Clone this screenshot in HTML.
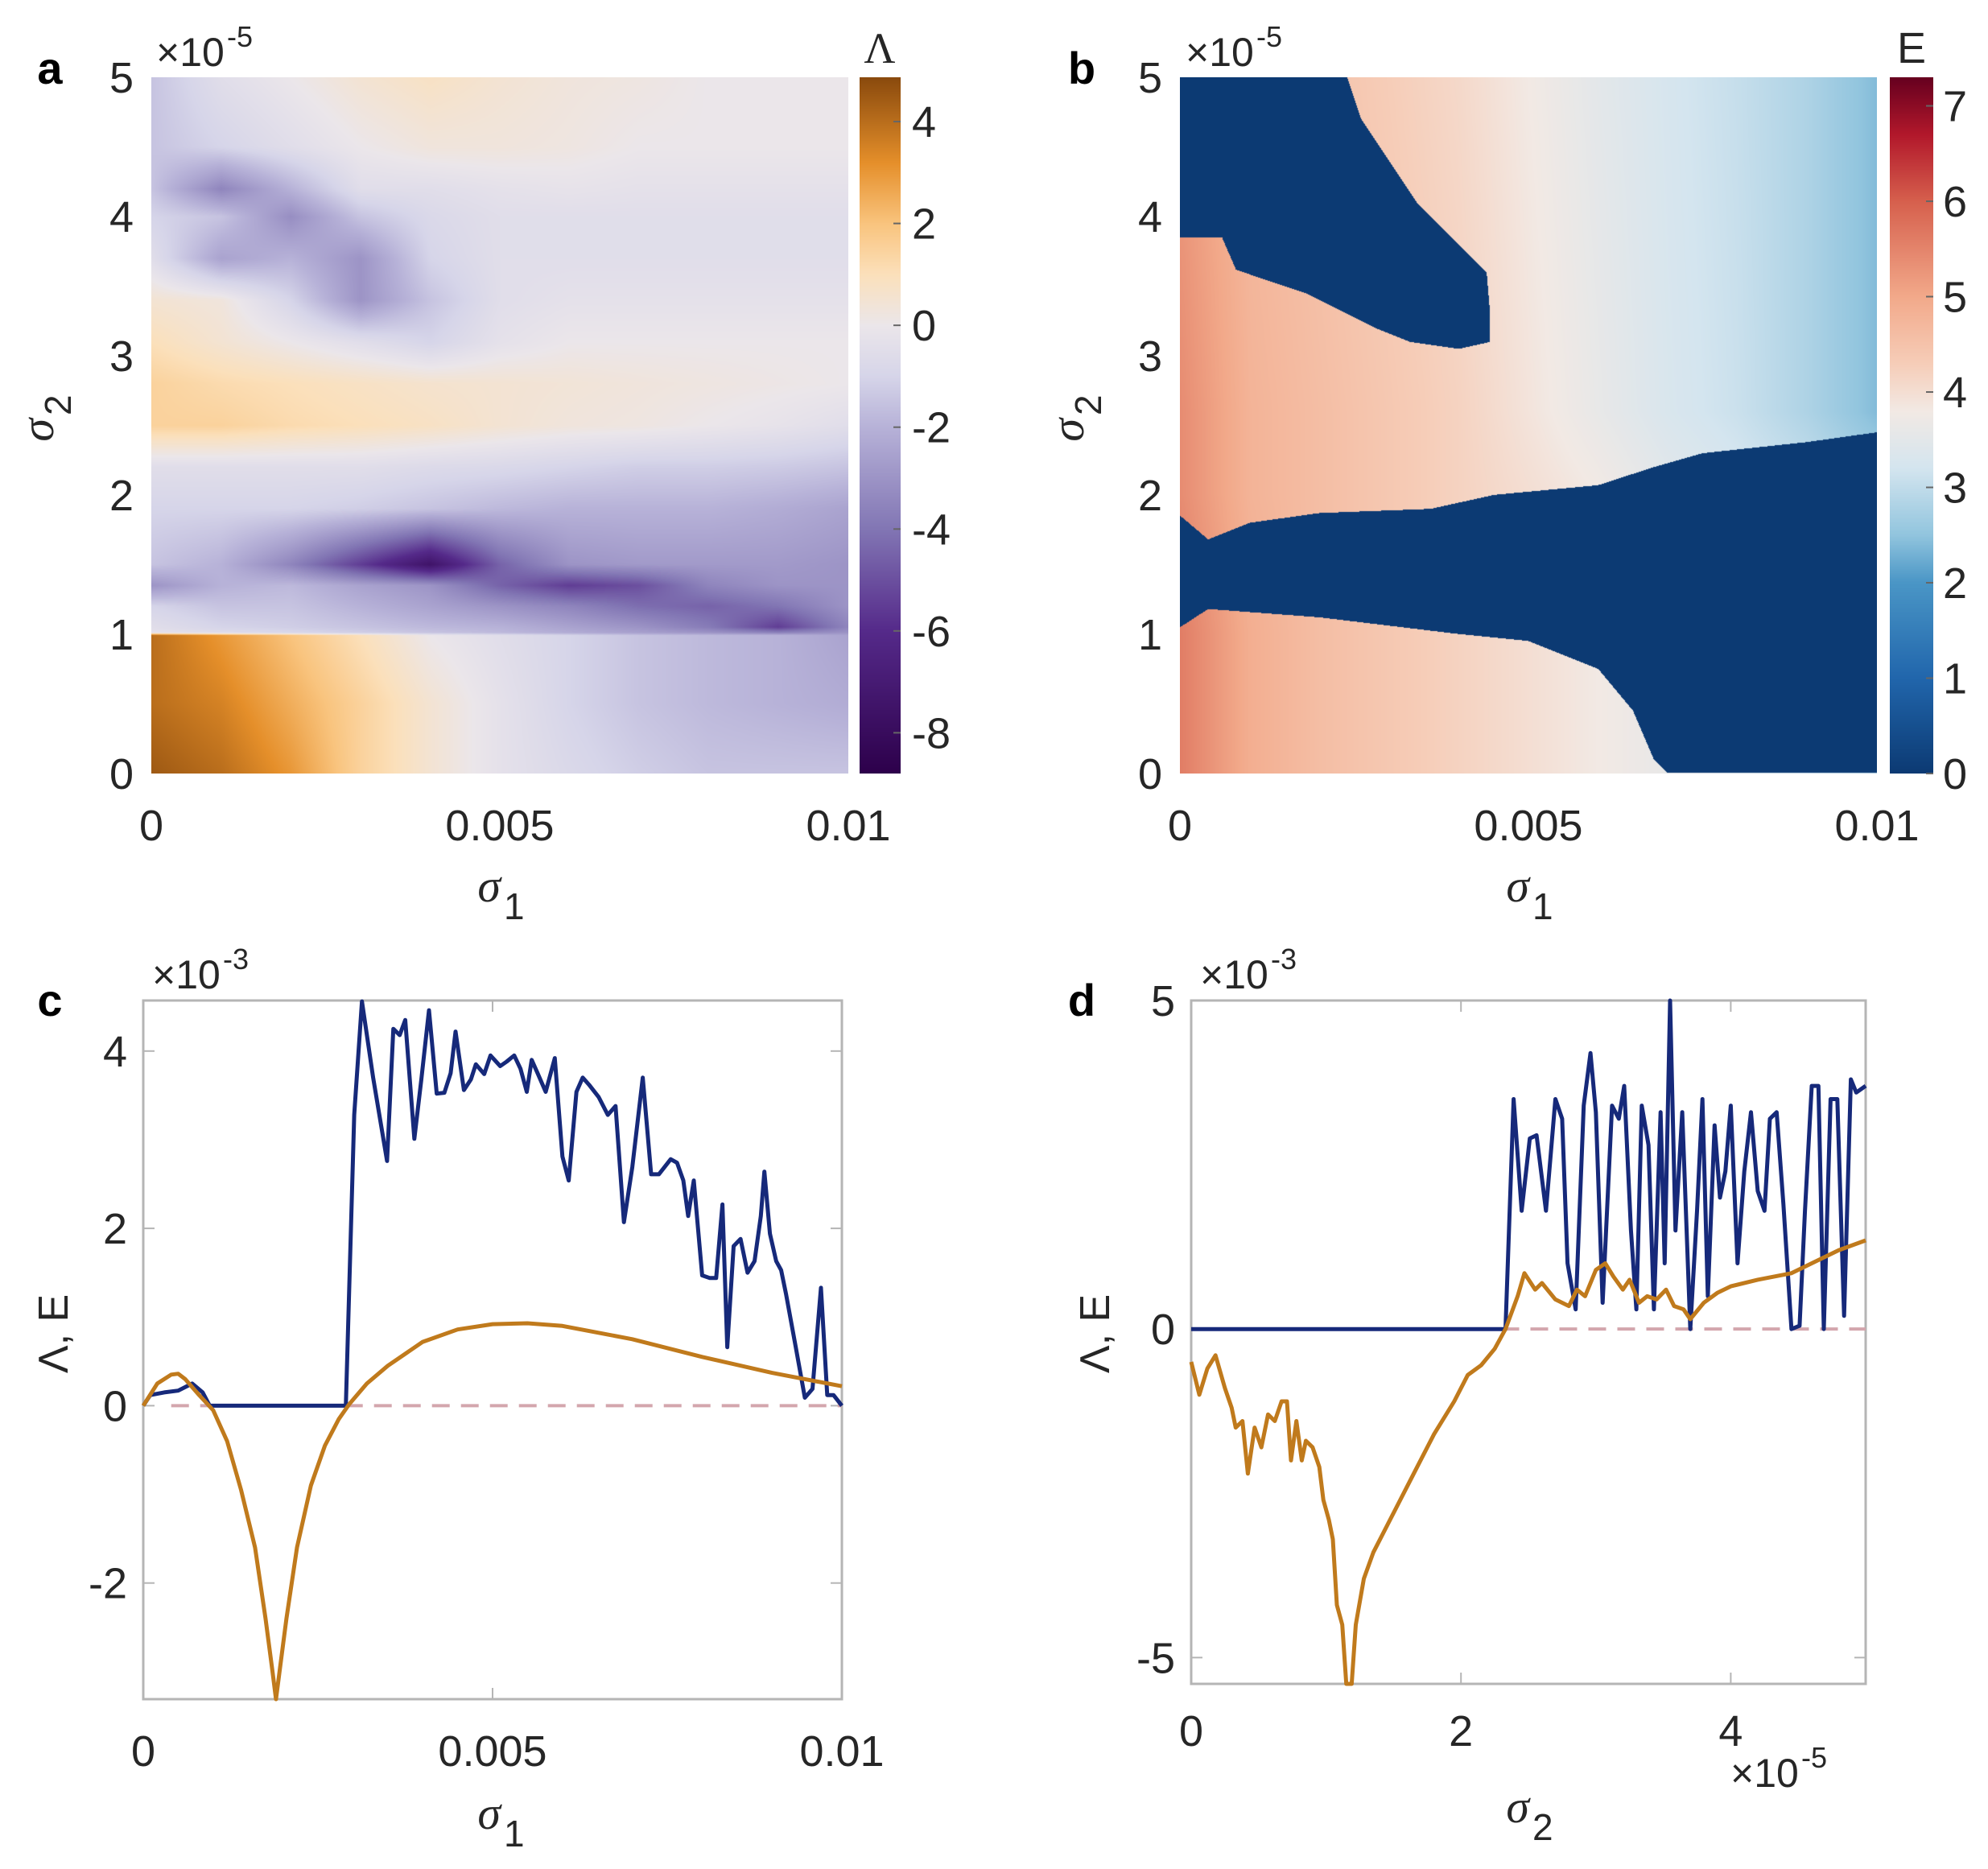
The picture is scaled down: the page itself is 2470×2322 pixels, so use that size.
<!DOCTYPE html>
<html><head><meta charset="utf-8">
<style>
html,body{margin:0;padding:0;background:#fff;}
#wrap{position:relative;width:2470px;height:2322px;overflow:hidden;background:#fff;font-family:"Liberation Sans",sans-serif;}
canvas{position:absolute;}
svg{position:absolute;left:0;top:0;}
</style></head>
<body>
<div id="wrap">
<canvas id="ca" style="left:188px;top:96px" width="866" height="865"></canvas>
<canvas id="cba" style="left:1068px;top:96px" width="51" height="865"></canvas>
<canvas id="cb" style="left:1466px;top:96px" width="866" height="865"></canvas>
<canvas id="cbb" style="left:2348px;top:96px" width="54" height="865"></canvas>
<svg id="svg" width="2470" height="2322"></svg>
</div>
<script>
// ---------------- DATA ----------------
const aCols=[0,1,2,3,4,5,6,7,8,9,10];
const aRows=[0,0.5,0.99,1.01,1.05,1.2,1.35,1.5,1.9,2.2,2.5,2.8,3.1,3.4,3.7,4.0,4.2,4.5,5.0];
const aVals=[
[4.5,4,3,1.5,0.5,-0.3,-0.8,-1.2,-1.5,-1.5,-1.5],
[4,3.5,2.5,1.5,0.5,-0.3,-1,-1.5,-1.8,-2,-2.2],
[4,3,2,1,0,-0.5,-1,-1.5,-1.8,-2,-2.5],
[-0.3,-0.6,-0.9,-1.2,-1.5,-1.8,-2.2,-2.6,-3,-3.6,-3],
[-0.5,-1,-1.2,-1.5,-1.8,-2,-2.5,-3,-3.8,-5.5,-3.5],
[-1,-1.5,-1.5,-2,-2.5,-3,-3.5,-4.2,-4.5,-4,-3],
[-3,-2,-1.8,-2.5,-3,-4.5,-5.5,-5,-3.5,-3,-3],
[-1.5,-2,-3.5,-5.5,-7.5,-4.5,-3,-2.8,-2.8,-2.8,-3],
[-1,-1,-1,-1.2,-1.5,-1.8,-2,-2,-2,-2.2,-2.5],
[-0.5,-0.5,-0.5,-0.5,-0.7,-0.8,-1,-1.2,-1.2,-1.3,-1.5],
[1.5,1.5,1.2,1,0.8,0.5,0.3,0.2,0,-0.2,-0.5],
[1.5,1.2,1,0.8,0.6,0.5,0.4,0.3,0.2,0.1,0],
[1,0.5,0,-0.5,-1,-0.3,0,0,0,0,0],
[0.5,0.3,-1,-3,-1.5,-0.5,-0.3,-0.3,-0.3,-0.3,-0.3],
[-0.5,-2.5,-2,-3,-1,-0.5,-0.5,-0.5,-0.5,-0.5,-0.5],
[-1,-1.5,-3.2,-1.5,-0.8,-0.5,-0.5,-0.5,-0.5,-0.5,-0.5],
[-1.5,-3.5,-2,-0.5,-0.5,-0.3,-0.2,-0.3,-0.3,-0.3,-0.3],
[-1.5,-1,-0.5,0,0.3,0.3,0.2,0,0,0,0],
[-1.5,-0.5,0,0.5,0.8,0.5,0.3,0.2,0,0,0]];
const aTicksY=[0,1,2,3,4,5];
const aTicksX=[0,0.005,0.01];
const aTickXLabels=["0","0.005","0.01"];
const aCbTicks=[4,2,0,-2,-4,-6,-8];
const bCols=[0,1,2,3,4,5,6,7,8,9,10];
const bRows=[0,1,2,2.6,5];
const bVals=[
[5.6,4.9,4.6,4.4,4.2,4.0,3.8,3.6,3.4,3.2,3.0],
[5.6,4.9,4.6,4.4,4.2,4.0,3.8,3.6,3.4,3.2,3.0],
[5.4,4.8,4.6,4.4,4.2,4.0,3.8,3.5,3.3,3.1,2.8],
[5.4,4.8,4.6,4.4,4.2,3.9,3.6,3.3,3.1,2.8,2.4],
[5.2,4.7,4.5,4.3,4.1,3.8,3.5,3.25,3.05,2.8,2.4]];
const blobRightS2=[5,4.7,4.4,4.1,3.85,3.6,3.3,3.0];
const blobRightS1=[2.4,2.6,3.0,3.4,3.9,4.4,4.45,4.45];
const blobBotS1=[0,0.6,0.8,1.2,1.8,2.2,2.8,3.3,4.0,4.45];
const blobBotS2=[3.85,3.85,3.62,3.55,3.45,3.35,3.2,3.1,3.05,3.1];
const bandS1=[0,0.4,1,2,3.6,4.5,6,6.8,7.5,9,10];
const bandTop=[1.85,1.68,1.8,1.87,1.9,2.0,2.07,2.2,2.3,2.38,2.45];
const bandBotS1=[0,0.4,2,4,5,6,6.5,6.8,7,10];
const bandBot=[1.05,1.18,1.12,1.0,0.95,0.75,0.45,0.1,0,0];
const bCbTicks=[7,6,5,4,3,2,1,0];
const cEx=[0,0.1,0.3,0.5,0.7,0.85,0.95,2.9,3.02,3.13,3.29,3.49,3.58,3.67,3.75,3.88,3.98,4.09,4.2,4.31,4.4,4.47,4.59,4.69,4.76,4.88,4.97,5.11,5.2,5.31,5.4,5.49,5.56,5.65,5.76,5.89,6.0,6.09,6.2,6.29,6.38,6.52,6.65,6.76,6.88,7.0,7.15,7.27,7.38,7.55,7.64,7.73,7.8,7.88,8.0,8.11,8.2,8.29,8.36,8.45,8.55,8.65,8.75,8.84,8.89,8.97,9.06,9.13,9.2,9.34,9.47,9.58,9.7,9.79,9.88,10];
const cEy=[0,0.12,0.15,0.17,0.25,0.15,0,0,3.28,4.56,3.7,2.76,4.25,4.18,4.35,3.01,3.68,4.46,3.52,3.53,3.75,4.22,3.56,3.68,3.85,3.74,3.95,3.83,3.88,3.95,3.8,3.54,3.9,3.74,3.54,3.92,2.81,2.54,3.54,3.7,3.62,3.48,3.28,3.38,2.07,2.69,3.7,2.61,2.61,2.78,2.74,2.54,2.14,2.54,1.47,1.44,1.44,2.27,0.66,1.8,1.88,1.5,1.63,2.14,2.64,1.94,1.63,1.53,1.26,0.66,0.09,0.19,1.33,0.12,0.12,0];
const cLx=[0,0.2,0.4,0.5,0.6,0.8,1.0,1.2,1.4,1.6,1.75,1.85,1.9,1.95,2.05,2.2,2.4,2.6,2.8,2.95,3.2,3.5,4,4.5,5,5.5,6,7,8,9,10];
const cLy=[0,0.25,0.35,0.36,0.3,0.12,-0.05,-0.4,-0.95,-1.6,-2.4,-3.0,-3.35,-3.0,-2.4,-1.6,-0.9,-0.45,-0.15,0.02,0.25,0.45,0.72,0.86,0.92,0.93,0.9,0.75,0.55,0.37,0.22];
const cTicksY=[-2,0,2,4];
const cTicksX=[0,5,10];
const cTickXLabels=["0","0.005","0.01"];
const dEx=[0,2.33,2.39,2.45,2.51,2.56,2.63,2.7,2.75,2.79,2.85,2.91,2.96,3.0,3.05,3.12,3.17,3.21,3.26,3.3,3.34,3.39,3.43,3.48,3.51,3.55,3.59,3.64,3.7,3.75,3.79,3.83,3.88,3.92,3.96,4.0,4.05,4.1,4.15,4.2,4.25,4.29,4.34,4.39,4.45,4.51,4.55,4.6,4.65,4.69,4.74,4.79,4.84,4.89,4.93,5.0];
const dEy=[0,0,3.5,1.8,2.9,2.95,1.8,3.5,3.2,1.0,0.3,3.4,4.2,3.3,0.4,3.4,3.2,3.7,1.5,0.3,3.4,2.8,0.3,3.3,1.0,5.0,1.5,3.3,0,1.8,3.5,0.5,3.1,2.0,2.4,3.4,1.0,2.4,3.3,2.1,1.8,3.2,3.3,1.9,0,0.05,1.8,3.7,3.7,0,3.5,3.5,0.2,3.8,3.6,3.7];
const dLx=[0,0.06,0.12,0.18,0.25,0.3,0.33,0.38,0.42,0.47,0.52,0.57,0.62,0.67,0.71,0.74,0.78,0.82,0.85,0.9,0.95,0.98,1.02,1.05,1.08,1.12,1.15,1.19,1.22,1.28,1.35,1.45,1.55,1.65,1.8,1.95,2.05,2.15,2.25,2.33,2.42,2.47,2.55,2.6,2.7,2.8,2.86,2.92,3.0,3.07,3.13,3.2,3.25,3.32,3.38,3.45,3.52,3.58,3.65,3.7,3.8,3.9,4.0,4.2,4.45,4.6,4.8,5.0];
const dLy=[-0.5,-1.0,-0.6,-0.4,-0.9,-1.2,-1.5,-1.4,-2.2,-1.5,-1.8,-1.3,-1.4,-1.1,-1.1,-2.0,-1.4,-2.0,-1.7,-1.8,-2.1,-2.6,-2.9,-3.2,-4.2,-4.5,-5.4,-5.4,-4.5,-3.8,-3.4,-3.0,-2.6,-2.2,-1.6,-1.1,-0.7,-0.55,-0.3,0,0.5,0.85,0.6,0.7,0.45,0.35,0.6,0.5,0.9,1.0,0.8,0.6,0.75,0.4,0.5,0.45,0.6,0.35,0.3,0.15,0.4,0.55,0.65,0.75,0.85,1.0,1.2,1.35];
const dTicksY=[-5,0,5];
const dTicksX=[0,2,4];

// ---------------- HELPERS ----------------
function interp1(xs,ys,x){if(x<=xs[0])return ys[0];for(let i=1;i<xs.length;i++){if(x<=xs[i]){const t=(x-xs[i-1])/(xs[i]-xs[i-1]);return ys[i-1]+t*(ys[i]-ys[i-1]);}}return ys[ys.length-1];}
function bilin(rows,cols,vals,r,c){let i=0;while(i<rows.length-2&&r>rows[i+1])i++;let tr=(r-rows[i])/(rows[i+1]-rows[i]);tr=Math.max(0,Math.min(1,tr));const a=interp1(cols,vals[i],c),b=interp1(cols,vals[i+1],c);return a+tr*(b-a);}
function hex(h){return[parseInt(h.substr(1,2),16),parseInt(h.substr(3,2),16),parseInt(h.substr(5,2),16)];}
function cmap(stops,v){if(v<=stops[0][0])return hex(stops[0][1]);for(let i=1;i<stops.length;i++){if(v<=stops[i][0]){const t=(v-stops[i-1][0])/(stops[i][0]-stops[i-1][0]);const a=hex(stops[i-1][1]),b=hex(stops[i][1]);return[a[0]+t*(b[0]-a[0]),a[1]+t*(b[1]-a[1]),a[2]+t*(b[2]-a[2])];}}return hex(stops[stops.length-1][1]);}
const puor=[[-8.8,'#2d004b'],[-6,'#552a8a'],[-4,'#8276b4'],[-2,'#b7b2d8'],[-1,'#d6d5e9'],[0,'#ebe6ea'],[1,'#fbe0bb'],[2,'#f9c47e'],[3.2,'#e58f2a'],[4.87,'#8a4a0d']];
const rdbu=[[0,'#0c3a73'],[1,'#2166ac'],[2,'#4a96c6'],[2.5,'#92c5de'],[3.2,'#d4e5ef'],[3.8,'#f2e9e4'],[4.3,'#f6cdb8'],[5,'#f2a98a'],[6,'#d6604d'],[6.7,'#b2182b'],[7.3,'#67001f']];

(function(){const cv=document.getElementById('ca');const ctx=cv.getContext('2d');const W=cv.width,H=cv.height;const im=ctx.createImageData(W,H);
for(let y=0;y<H;y++){const s2=5*(1-y/(H-1));for(let x=0;x<W;x++){const s1=10*x/(W-1);const v=bilin(aRows,aCols,aVals,s2,s1);const c=cmap(puor,v);const k=(y*W+x)*4;im.data[k]=c[0];im.data[k+1]=c[1];im.data[k+2]=c[2];im.data[k+3]=255;}}ctx.putImageData(im,0,0);
const cb=document.getElementById('cba').getContext('2d');for(let y=0;y<865;y++){const v=4.87-(13.67)*y/864;const c=cmap(puor,v);cb.fillStyle='rgb('+c.map(Math.round).join(',')+')';cb.fillRect(0,y,51,1);}})();
(function(){const cv=document.getElementById('cb');const ctx=cv.getContext('2d');const W=cv.width,H=cv.height;const im=ctx.createImageData(W,H);
for(let y=0;y<H;y++){const s2=5*(1-y/(H-1));const rb=s2>=3.0?interp1(blobRightS2.slice().reverse(),blobRightS1.slice().reverse(),s2):-1;
for(let x=0;x<W;x++){const s1=10*x/(W-1);let v=bilin(bRows,bCols,bVals,s2,s1);
if(s1<rb&&s2>interp1(blobBotS1,blobBotS2,s1))v=0;
if(s2<interp1(bandS1,bandTop,s1)&&s2>interp1(bandBotS1,bandBot,s1))v=0;
const c=cmap(rdbu,v);const k=(y*W+x)*4;im.data[k]=c[0];im.data[k+1]=c[1];im.data[k+2]=c[2];im.data[k+3]=255;}}ctx.putImageData(im,0,0);
const cb=document.getElementById('cbb').getContext('2d');for(let y=0;y<865;y++){const v=7.3-7.3*y/864;const c=cmap(rdbu,v);cb.fillStyle='rgb('+c.map(Math.round).join(',')+')';cb.fillRect(0,y,54,1);}})();

// ---------------- SVG ----------------
const svg=document.getElementById('svg');const NS='http://www.w3.org/2000/svg';
function el(tag,attrs,parent){const e=document.createElementNS(NS,tag);for(const k in attrs)e.setAttribute(k,attrs[k]);(parent||svg).appendChild(e);return e;}
function txt(s,x,y,size,anchor,name,extra){const t=el('text',Object.assign({x:x,y:y,'font-size':size,'text-anchor':anchor||'middle',fill:'#262626','font-family':'Liberation Sans, sans-serif'},extra||{}));t.textContent=s;


return t;}
function sigma(x,y,sub,name,rot){const g=el('g',{transform:rot?'translate('+x+','+y+') rotate(-90)':'translate('+x+','+y+')'});


const t=el('text',{x:0,y:0,'font-size':58,'font-family':'Liberation Serif, serif','font-style':'italic',fill:'#262626','text-anchor':'end'},g);t.textContent='σ';
const s=el('text',{x:4,y:22,'font-size':46,'font-family':'Liberation Sans, sans-serif',fill:'#262626'},g);s.textContent=sub;}
function expo(x,y,p,name){const g=el('g',{});


const t=el('text',{x:x,y:y,'font-size':50,fill:'#262626','font-family':'Liberation Sans, sans-serif'},g);t.textContent='×10';
const s=el('text',{x:x+88,y:y-24,'font-size':36,fill:'#262626','font-family':'Liberation Sans, sans-serif'},g);s.textContent=p;}
const FS=54;

(function(){const x0=188,x1=1054,y0=96,y1=961;const sx=v=>x0+(x1-x0)*v/0.01,sy=v=>y1-(y1-y0)*v/5;
aTicksY.forEach(v=>{txt(String(v),166,sy(v)+19,FS,'end','a-y-tick-label');});
aTicksX.forEach((v,i)=>{txt(aTickXLabels[i],sx(v),1044,FS,'middle','a-x-tick-label');});
aCbTicks.forEach(v=>{const y=96+865*(4.87-v)/13.67;txt(String(v),1133,y+19,FS,'start','a-colorbar-tick-label');el('line',{x1:1110,x2:1119,y1:y,y2:y,stroke:'#666','stroke-width':2});});
txt('Λ',1093,78,54,'middle','a-colorbar-title',{'font-family':'Liberation Serif, serif'});
txt('a',62,104,56,'middle','a-panel-label',{'font-weight':'bold',fill:'#000'});
expo(194,82,'-5','a-y-exponent');
sigma(622,1120,'1','a-x-axis-title');sigma(66,520,'2','a-y-axis-title',true);})();
(function(){const x0=1466,x1=2332,y0=96,y1=961;const sx=v=>x0+(x1-x0)*v/0.01,sy=v=>y1-(y1-y0)*v/5;
aTicksY.forEach(v=>{txt(String(v),1444,sy(v)+19,FS,'end','b-y-tick-label');});
aTicksX.forEach((v,i)=>{txt(aTickXLabels[i],sx(v),1044,FS,'middle','b-x-tick-label');});
bCbTicks.forEach(v=>{const y=96+865*(7.3-v)/7.3;txt(String(v),2414,y+19,FS,'start','b-colorbar-tick-label');el('line',{x1:2393,x2:2402,y1:y,y2:y,stroke:'#666','stroke-width':2});});
txt('E',2375,78,54,'middle','b-colorbar-title');
txt('b',1344,104,56,'middle','b-panel-label',{'font-weight':'bold',fill:'#000'});
expo(1473,82,'-5','b-y-exponent');
sigma(1900,1120,'1','b-x-axis-title');sigma(1346,520,'2','b-y-axis-title',true);})();

function linePanel(p){const {x0,x1,y0,y1,xmin,xmax,ymin,ymax}=p;const sx=v=>x0+(x1-x0)*(v-xmin)/(xmax-xmin),sy=v=>y1-(y1-y0)*(v-ymin)/(ymax-ymin);
const box=el('rect',{x:x0,y:y0,width:x1-x0,height:y1-y0,fill:'none',stroke:'#b5b5b5','stroke-width':3});


p.ty.forEach(v=>{const y=sy(v);el('line',{x1:x0,x2:x0+14,y1:y,y2:y,stroke:'#b5b5b5','stroke-width':2});el('line',{x1:x1,x2:x1-14,y1:y,y2:y,stroke:'#b5b5b5','stroke-width':2});txt(String(v),p.tyx,y+19,FS,'end',p.id+'-y-tick-label');});
p.tx.forEach((v,i)=>{const x=sx(v);el('line',{x1:x,x2:x,y1:y1,y2:y1-14,stroke:'#b5b5b5','stroke-width':2});el('line',{x1:x,x2:x,y1:y0,y2:y0+14,stroke:'#b5b5b5','stroke-width':2});txt(p.txl[i],x,p.txy,FS,'middle',p.id+'-x-tick-label');});
const z=el('line',{x1:sx(p.zfrom),x2:x1,y1:sy(0),y2:sy(0),stroke:'#d3a6ad','stroke-width':4,'stroke-dasharray':'22,14'});


const pts=(xs,ys)=>xs.map((v,i)=>sx(v).toFixed(1)+','+sy(Math.max(ymin,Math.min(ymax,ys[i]))).toFixed(1)).join(' ');
const e=el('polyline',{points:pts(p.ex,p.ey),fill:'none',stroke:'#16297a','stroke-width':5,'stroke-linejoin':'round'});


const l=el('polyline',{points:pts(p.lx,p.ly),fill:'none',stroke:'#c07a1c','stroke-width':5,'stroke-linejoin':'round'});

}

linePanel({id:'c',x0:178,x1:1046,y0:1243,y1:2111,xmin:0,xmax:10,ymin:-3.31,ymax:4.57,ty:cTicksY,tyx:158,tx:cTicksX,txl:cTickXLabels,txy:2194,zfrom:0.4,ex:cEx,ey:cEy,lx:cLx,ly:cLy});
txt('c',62,1262,56,'middle','c-panel-label',{'font-weight':'bold',fill:'#000'});
expo(189,1228,'-3','c-y-exponent');
sigma(622,2272,'1','c-x-axis-title');
txt('Λ, E',84,1657,52,'middle','c-y-axis-title',{transform:'rotate(-90 84 1657)'});

linePanel({id:'d',x0:1480,x1:2318,y0:1243,y1:2092,xmin:0,xmax:5,ymin:-5.4,ymax:5,ty:dTicksY,tyx:1460,tx:dTicksX,txl:dTicksX.map(String),txy:2169,zfrom:2.3,ex:dEx,ey:dEy,lx:dLx,ly:dLy});
txt('d',1344,1262,56,'middle','d-panel-label',{'font-weight':'bold',fill:'#000'});
expo(1491,1228,'-3','d-y-exponent');
expo(2150,2220,'-5','d-x-exponent');
sigma(1900,2264,'2','d-x-axis-title');
txt('Λ, E',1378,1657,52,'middle','d-y-axis-title',{transform:'rotate(-90 1378 1657)'});
</script>
</body></html>
